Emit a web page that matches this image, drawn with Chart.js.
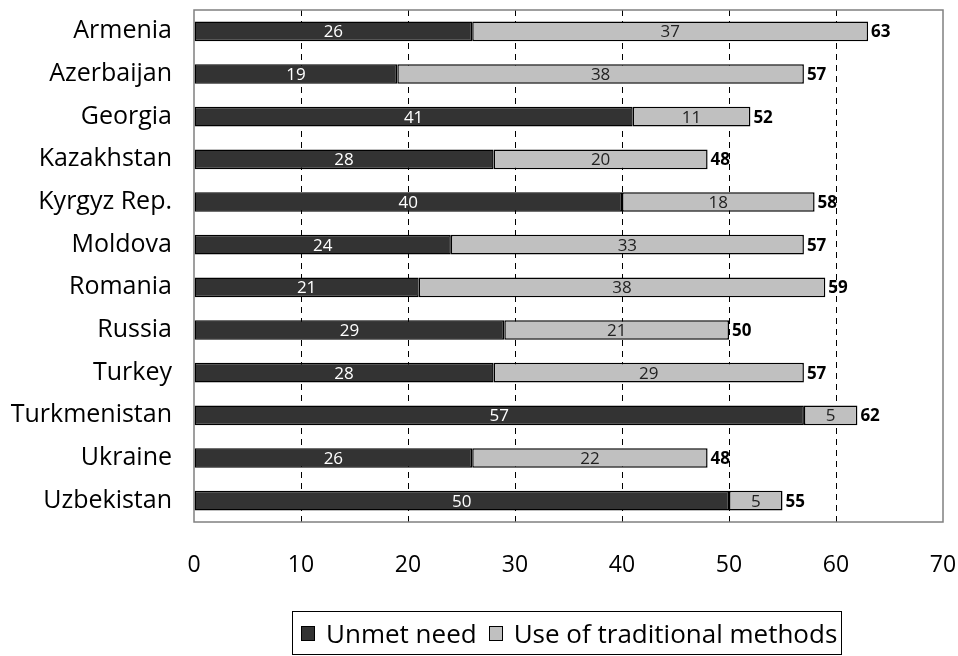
<!DOCTYPE html>
<html>
<head>
<meta charset="utf-8">
<script src="https://cdn.jsdelivr.net/npm/chart.js@4/dist/chart.umd.min.js"></script>
<style>
  html, body { margin: 0; padding: 0; background: #fff; }
  #wrap { position: relative; width: 958px; height: 656px; overflow: hidden; }
  #legend {
    position: absolute; left: 292px; top: 611px; width: 550px; height: 44px;
    border: 1.5px solid #000; box-sizing: border-box;
    font-family: "Open Sans", sans-serif; font-size: 26px; color: #000;
    display: flex; align-items: center; justify-content: flex-start;
    padding-left: 8px; white-space: nowrap;
  }
  #legend .item { display: flex; align-items: center; }
  #legend .item + .item { margin-left: 12px; }
  #legend .box { display: inline-block; width: 14px; height: 15px; border: 1.5px solid #000; box-sizing: border-box; margin-right: 11px; }
</style>
</head>
<body>
<div id="wrap">
  <canvas id="ch" width="958" height="656"></canvas>
  <div id="legend"></div>
</div>
<script>
const countries = ['Armenia','Azerbaijan','Georgia','Kazakhstan','Kyrgyz Rep.','Moldova','Romania','Russia','Turkey','Turkmenistan','Ukraine','Uzbekistan'];
const unmetNeed   = [26, 19, 41, 28, 40, 24, 21, 29, 28, 57, 26, 50];
const traditional = [37, 38, 11, 20, 18, 33, 38, 21, 29, 5, 22, 5];
const totals      = [63, 57, 52, 48, 58, 57, 59, 50, 57, 62, 48, 55];
const xTicks = [0, 10, 20, 30, 40, 50, 60, 70];

const DARK = '#333333';
const LIGHT = '#c0c0c0';
const FONT = '"Open Sans", sans-serif';

// caixa cinza em volta da área do gráfico
const frame = {
  id: 'frame',
  afterDatasetsDraw(chart) {
    const { ctx, chartArea: a } = chart;
    ctx.save();
    ctx.strokeStyle = '#808080';
    ctx.lineWidth = 1.5;
    ctx.strokeRect(a.left, a.top, a.right - a.left, a.bottom - a.top);
    ctx.restore();
  }
};

// rótulos dos valores + totais em negrito
const labels = {
  id: 'labels',
  afterDatasetsDraw(chart) {
    const ctx = chart.ctx;
    ctx.save();
    ctx.textAlign = 'center';
    ctx.textBaseline = 'middle';
    ctx.font = '17px ' + FONT;
    chart.data.datasets.forEach((ds, di) => {
      const meta = chart.getDatasetMeta(di);
      meta.data.forEach((bar, i) => {
        const cx = (bar.x + bar.base) / 2;
        ctx.fillStyle = di === 0 ? '#ffffff' : '#222222';
        ctx.fillText(ds.data[i], cx, bar.y + 1);
      });
    });
    const last = chart.getDatasetMeta(1);
    ctx.font = 'bold 17px ' + FONT;
    ctx.textAlign = 'left';
    ctx.fillStyle = '#000';
    last.data.forEach((bar, i) => {
      ctx.fillText(totals[i], bar.x + 3, bar.y + 1);
    });
    ctx.restore();
  }
};

new Chart(document.getElementById('ch'), {
  type: 'bar',
  data: {
    labels: countries,
    datasets: [
      { label: 'Unmet need', data: unmetNeed, backgroundColor: DARK },
      { label: 'Use of traditional methods', data: traditional, backgroundColor: LIGHT }
    ]
  },
  options: {
    indexAxis: 'y',
    responsive: false,
    animation: false,
    layout: { padding: { left: 0, right: 15, top: 10, bottom: 70 } },
    datasets: {
      bar: {
        categoryPercentage: 1,
        barPercentage: 0.46,
        borderColor: '#000',
        borderWidth: 1.5,
        borderSkipped: false
      }
    },
    plugins: {
      legend: { display: false },
      tooltip: { enabled: false }
    },
    scales: {
      x: {
        stacked: true,
        min: 0, max: 70,
        afterBuildTicks: s => { s.ticks = xTicks.map(v => ({ value: v })); },
        afterFit: s => { s.height = 64; s.paddingLeft = 0; s.paddingRight = 0; },
        grid: {
          drawTicks: false,
          color: c => (c.tick && (c.tick.value === 0 || c.tick.value === 70)) ? 'rgba(0,0,0,0)' : '#000',
          lineWidth: 1
        },
        border: { display: false, dash: [6, 5] },
        ticks: { color: '#000', font: { family: FONT, size: 23 }, padding: 30 }
      },
      y: {
        stacked: true,
        afterFit: s => { s.width = 194; s.paddingTop = 0; s.paddingBottom = 0; },
        border: { display: false },
        grid: { display: false, drawTicks: false },
        ticks: { color: '#000', font: { family: FONT, size: 25 }, padding: 22 }
      }
    }
  },
  plugins: [frame, labels]
});

// legenda em HTML com caixa
const lg = document.getElementById('legend');
[['Unmet need', DARK], ['Use of traditional methods', LIGHT]].forEach(([t, c]) => {
  const s = document.createElement('span');
  s.className = 'item';
  s.innerHTML = `<span class="box" style="background:${c}"></span><span>${t}</span>`;
  lg.appendChild(s);
});
</script>
</body>
</html>
